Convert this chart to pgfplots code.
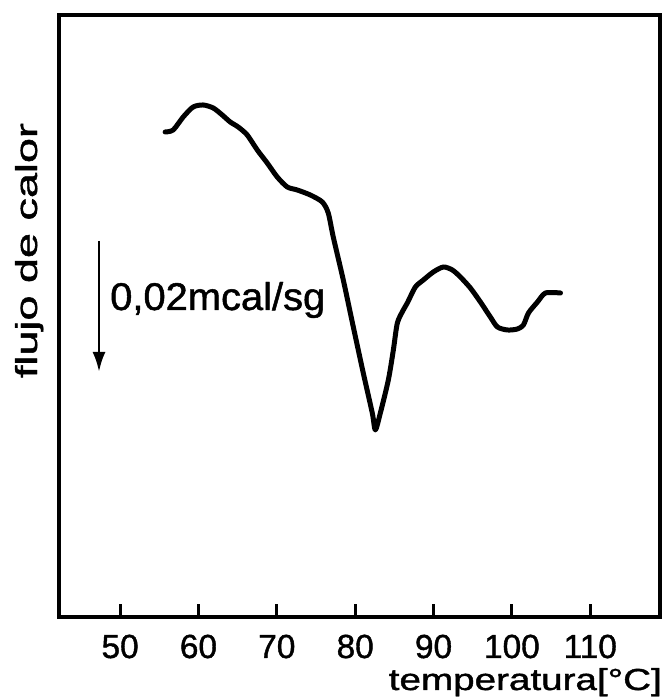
\documentclass[border=0pt]{standalone}
\usepackage{fontspec}
\setmainfont{Liberation Sans}[FakeBold=1.2]
\usepackage{graphicx}
\usepackage{pgfplots}
\pgfplotsset{compat=1.18}
\usetikzlibrary{arrows.meta}
\begin{document}
\begin{tikzpicture}[x=1bp,y=1bp]
\useasboundingbox (0,0) rectangle (665,699);
\begin{axis}[
  at={(59bp,82bp)}, anchor=south west,
  width=601bp, height=602bp, scale only axis,
  xmin=42.2, xmax=118.9, ymin=0, ymax=602,
  axis line style={line width=3.8bp},
  xtick={50,60,70,80,90,100,110},
  xtick pos=bottom, tick align=inside,
  major tick length=13bp,
  every tick/.style={line width=3bp, black},
  ytick=\empty,
  /pgf/number format/assume math mode=true,
  xticklabel style={anchor=base, yshift=-41bp, inner sep=0pt, font=\fontsize{33.5}{40}\selectfont},
  clip=false,
]
\addplot[black, line width=5bp, line join=round, line cap=round, smooth, tension=0.45] coordinates {
(55.75,485) (56.77,487) (58.05,500) (59.32,510) (60.60,512) (61.88,509)
(63.03,502) (64.05,495) (65.07,490) (66.22,482) (67.50,467) (68.77,454)
(70.05,440) (71.33,430) (72.61,427) (74.27,422) (75.80,415) (76.56,404)
(77.20,380) (78.48,337) (79.76,290) (81.03,244) (82.18,204) (82.57,187)
(83.21,204) (84.23,237) (84.87,267) (85.38,294) (86.14,307) (86.65,314)
(87.68,330) (88.70,337) (89.97,345) (91.25,350) (92.40,347) (93.42,340)
(94.70,329) (95.98,315) (97.25,300) (98.15,290) (99.43,287) (100.70,288)
(101.47,292) (102.11,304) (103.26,315) (104.28,324) (106.2,324)
};
\end{axis}
\node[rotate=90, anchor=base, inner sep=0pt] at (37,448.5) {\resizebox{255bp}{22bp}{flujo de calor}};
\node[anchor=base west, inner sep=0pt] at (110,389) {\resizebox{215bp}{28bp}{0,02mcal/sg}};
\draw[line width=2.8bp, -{Latex[length=20bp,width=13bp]}] (99,458) -- (99,327);
\node[anchor=base east, inner sep=0pt] at (662,9) {\resizebox{273bp}{22bp}{temperatura[°C]}};
\end{tikzpicture}
\end{document}
